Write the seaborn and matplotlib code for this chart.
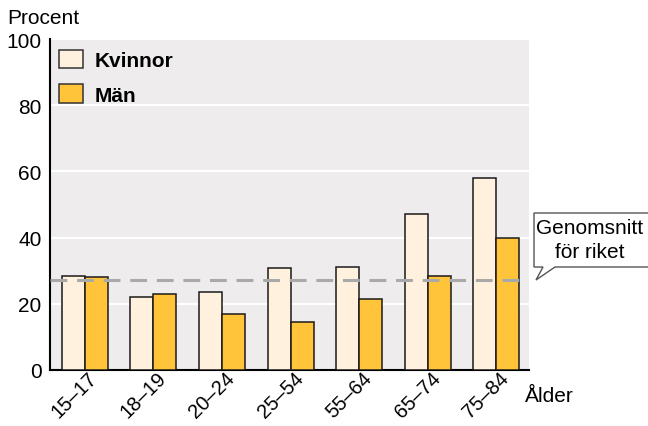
import matplotlib
matplotlib.use("Agg")
import matplotlib.pyplot as plt
import matplotlib.transforms as mtransforms
from matplotlib.patches import Polygon, Patch
import seaborn as sns
import pandas as pd

# Andel per åldersgrupp och kön (procent)
age_groups = ["15–17", "18–19", "20–24", "25–54", "55–64", "65–74", "75–84"]
kvinnor = [28.3, 22.0, 23.5, 30.7, 31.2, 47.1, 57.9]
man = [28.0, 23.1, 17.0, 14.6, 21.4, 28.4, 40.0]
riket = 27.2
series_names = ["Kvinnor", "Män"]
colors = ["#FFF1DE", "#FFC43A"]
y_ticks = [0, 20, 40, 60, 80, 100]

df = pd.DataFrame({
    "Ålder": age_groups * 2,
    "Procent": kvinnor + man,
    "Kön": [series_names[0]] * len(age_groups) + [series_names[1]] * len(age_groups),
})

sns.set_theme(style="white")
plt.rcParams["font.family"] = ["Liberation Sans", "DejaVu Sans"]
plt.rcParams["font.size"] = 15
plt.rcParams["text.color"] = "black"
plt.rcParams["xtick.color"] = "black"
plt.rcParams["ytick.color"] = "black"

FS = 15
fig = plt.figure(figsize=(6.48, 4.27), dpi=100)
W, H = 648, 427
ax = fig.add_axes([50 / W, 1 - 371 / H, 479 / W, 331 / H])
ax.set_facecolor("#EEECED")

sns.barplot(data=df, x="Ålder", y="Procent", hue="Kön", palette=colors,
            order=age_groups, hue_order=series_names, width=0.67, gap=0,
            saturation=1, edgecolor="#1A1A1A", linewidth=1.1, legend=False,
            ax=ax, zorder=3)

ax.set_ylim(0, 100)
ax.set_xlim(-0.505, 6.475)
ax.set_yticks(y_ticks)
ax.set_yticklabels([str(t) for t in y_ticks], fontsize=FS)
ax.yaxis.grid(True, color="white", linewidth=1.6, zorder=0)
ax.set_axisbelow(True)
ax.tick_params(axis="y", length=0, pad=6)
ax.tick_params(axis="x", length=0, pad=0)
ax.set_xticks(range(len(age_groups)))
ax.set_xticklabels(age_groups, rotation=45, ha="right", rotation_mode="anchor",
                   fontsize=14.5)
# nudge the rotated labels so their upper end sits just right of each group
shift = mtransforms.ScaledTranslation(3 / 100, 2 / 100, fig.dpi_scale_trans)
for lbl in ax.get_xticklabels():
    lbl.set_transform(lbl.get_transform() + shift)
ax.set_xlabel("")
ax.set_ylabel("")
for side in ["top", "right"]:
    ax.spines[side].set_visible(False)
for side in ["left", "bottom"]:
    ax.spines[side].set_visible(True)
    ax.spines[side].set_color("black")
    ax.spines[side].set_linewidth(1.5)

# Genomsnitt för riket
ax.axhline(riket, color="#A9A9A9", linewidth=2.2, dashes=(5.5, 3.2), zorder=4)

# Legend
handles = [Patch(facecolor=c, edgecolor="#333333", linewidth=1.1) for c in colors]
leg = ax.legend(handles, series_names, loc="upper left", frameon=False,
                bbox_to_anchor=(0.0, 0.995), handlelength=1.15, handleheight=0.96,
                handletextpad=0.55, labelspacing=0.68, borderaxespad=0.25,
                borderpad=0.2, prop={"weight": "bold", "size": FS})

fig.text(7 / W, 1 - 18 / H, "Procent", fontsize=FS, va="center", ha="left")
fig.text(525 / W, 1 - 397 / H, "Ålder", fontsize=FS, va="center", ha="left")

# Pratbubbla
pts = [(534, 214), (652, 214), (652, 268), (555, 268), (536, 281), (543, 268), (534, 268)]
bubble = Polygon([(x / W, 1 - y / H) for x, y in pts], closed=True,
                 transform=fig.transFigure, facecolor="white", edgecolor="#555555",
                 linewidth=1.0, zorder=5)
fig.add_artist(bubble)
fig.text(590 / W, 1 - 229 / H, "Genomsnitt", fontsize=FS, ha="center", va="center", zorder=6)
fig.text(590 / W, 1 - 253 / H, "för riket", fontsize=FS, ha="center", va="center", zorder=6)

fig.savefig("out.png", dpi=100)
